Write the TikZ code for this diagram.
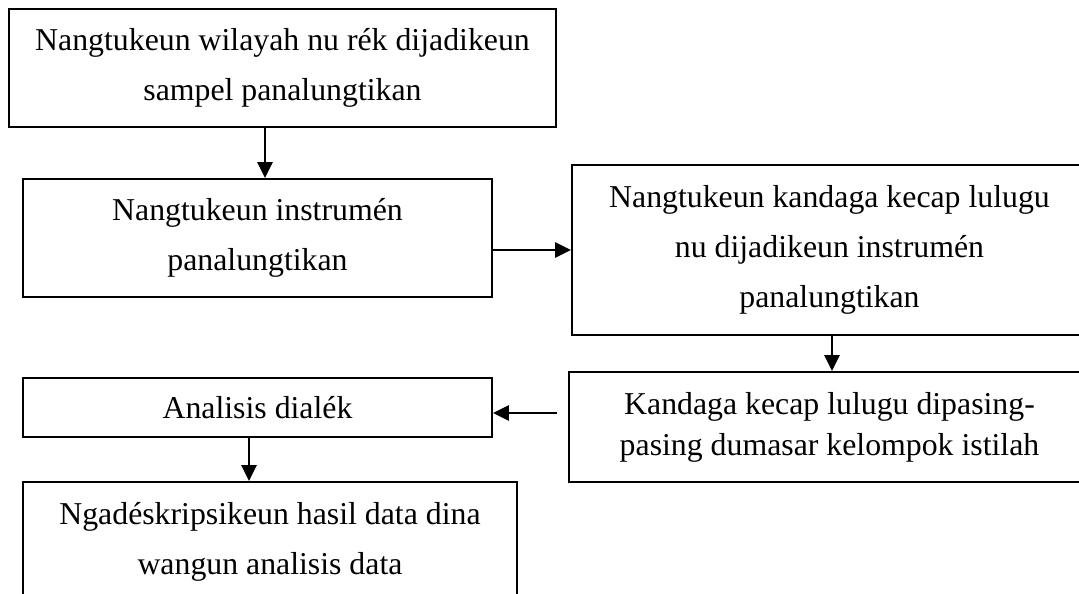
\documentclass[tikz,border=0pt]{standalone}
\usepackage{fontspec}
\setmainfont{Liberation Serif}
\usetikzlibrary{arrows.meta}
\begin{document}
\begin{tikzpicture}[x=1pt,y=-1pt,
  box/.style={draw, line width=1.8pt, align=center, inner sep=0pt,
    font=\fontsize{31.8}{50}\selectfont},
  arr/.style={line width=2.5pt, -{Triangle[length=16pt,width=15pt]}}]
\useasboundingbox (0,0) rectangle (1079,594);
\clip (0,0) rectangle (1079,594);
\fill[white] (0,0) rectangle (1079,594);
\node[box, minimum width=547pt, minimum height=118pt] (b1) at (282.5,68)
  {Nangtukeun wilayah nu rék dijadikeun\\sampel panalungtikan};
\node[box, minimum width=469pt, minimum height=118pt] (b2) at (257.5,238)
  {Nangtukeun instrumén\\panalungtikan};
\node[box, minimum width=515pt, minimum height=170pt] (b3) at (829.5,250)
  {Nangtukeun kandaga kecap lulugu\\nu dijadikeun instrumén\\panalungtikan};
\node[box, minimum width=469pt, minimum height=59pt] (b4) at (257.5,407.5)
  {Analisis dialék};
\node[box, minimum width=521pt, minimum height=110pt,
  font=\fontsize{31.8}{41}\selectfont] (b5) at (829.5,427)
  {Kandaga kecap lulugu dipasing-\\pasing dumasar kelompok istilah};
\node[box, minimum width=494pt, minimum height=120pt] (b6) at (270,542)
  {Ngadéskripsikeun hasil data dina\\wangun analisis data};
\coordinate (x1) at (265,0);
\draw[arr] (b1.south -| x1) -- (b2.north -| x1);
\coordinate (y2) at (0,250);
\draw[arr] (b2.east |- y2) -- (b3.west |- y2);
\coordinate (x3) at (832,0);
\draw[arr] (b3.south -| x3) -- (b5.north -| x3);
\coordinate (s4) at (557,413);
\draw[arr] (s4) -- (b4.east |- s4);
\coordinate (x5) at (249,0);
\draw[arr] (b4.south -| x5) -- (b6.north -| x5);
\end{tikzpicture}
\end{document}
